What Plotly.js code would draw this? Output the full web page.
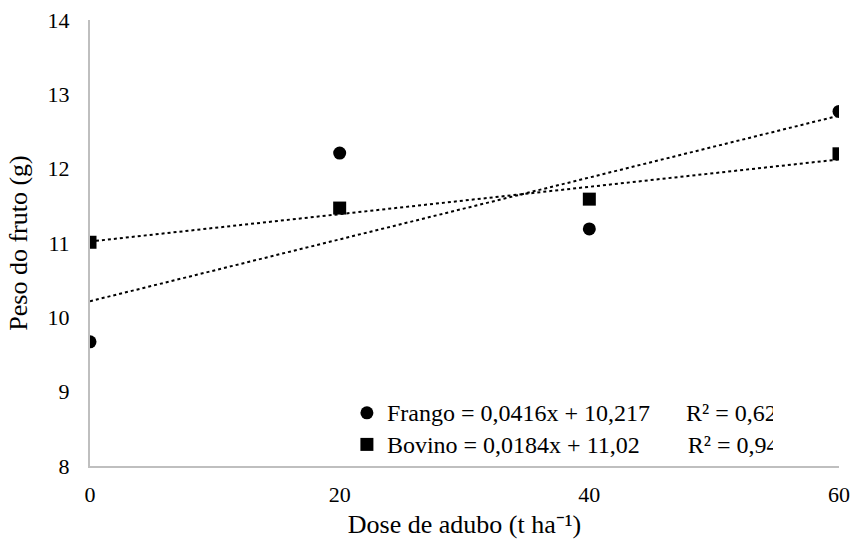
<!DOCTYPE html>
<html>
<head>
<meta charset="utf-8">
<script src="https://cdn.plot.ly/plotly-3.0.1.min.js"></script>
<style>
html,body{margin:0;padding:0;background:#fff;}
#chart{width:854px;height:543px;}
</style>
</head>
<body>
<div id="chart"></div>
<script>
// Data
const doses = [0, 20, 40, 60];
const frango = [9.67, 12.21, 11.19, 12.77];
const bovino = [11.01, 11.47, 11.59, 12.20];
// Trendline coefficients (from the chart legend)
const frangoSlope = 0.0416, frangoIntercept = 10.217, frangoR2 = "0,6214";
const bovinoSlope = 0.0184, bovinoIntercept = 11.02, bovinoR2 = "0,9467";
const trendX = [0, 60];
const xTicks = [0, 20, 40, 60];
const yTicks = [8, 9, 10, 11, 12, 13, 14];

const serif = 'Liberation Serif';

const traces = [
  {x: trendX, y: trendX.map(v => frangoSlope * v + frangoIntercept), mode: 'lines',
   line: {color: '#000', width: 2, dash: 'dot'}, showlegend: false, hoverinfo: 'skip'},
  {x: trendX, y: trendX.map(v => bovinoSlope * v + bovinoIntercept), mode: 'lines',
   line: {color: '#000', width: 2, dash: 'dot'}, showlegend: false, hoverinfo: 'skip'},
  {x: doses, y: frango, mode: 'markers', name: 'Frango = 0,0416x + 10,217      R² = ' + frangoR2,
   marker: {symbol: 'circle', size: 13, color: '#000'}},
  {x: doses, y: bovino, mode: 'markers', name: 'Bovino = 0,0184x + 11,02        R² = ' + bovinoR2,
   marker: {symbol: 'square', size: 13, color: '#000'}}
];

const layout = {
  width: 854, height: 543,
  margin: {l: 90, r: 15, t: 20, b: 77},
  font: {family: serif, size: 22},
  showlegend: true,
  legend: {x: 0.343, xanchor: 'left', y: 0.0, yanchor: 'bottom', tracegroupgap: 0},
  xaxis: {range: [0, 60], tickmode: 'array', tickvals: xTicks, showgrid: false, zeroline: false,
          showline: true, linecolor: '#bfbfbf', linewidth: 2, ticks: 'outside', ticklen: 8, tickcolor: '#fff',
          title: {text: 'Dose de adubo (t ha⁻¹)', standoff: 8}},
  yaxis: {range: [8, 14], tickmode: 'array', tickvals: yTicks, showgrid: false, zeroline: false,
          showline: true, linecolor: '#bfbfbf', linewidth: 2, ticks: 'outside', ticklen: 14, tickcolor: '#fff',
          title: {text: 'Peso do fruto (g)', standoff: 12}}
};

Plotly.newPlot('chart', traces, layout, {staticPlot: true}).then(gd => {
  gd.querySelectorAll('text').forEach(t => {
    t.style.setProperty('font-family', serif, 'important');
    t.style.setProperty('fill', '#000', 'important');
    t.setAttribute('font-family', serif);
  });
  gd.querySelectorAll('.legendtext').forEach(t => t.style.setProperty('font-size', '24px', 'important'));
});
</script>
</body>
</html>
